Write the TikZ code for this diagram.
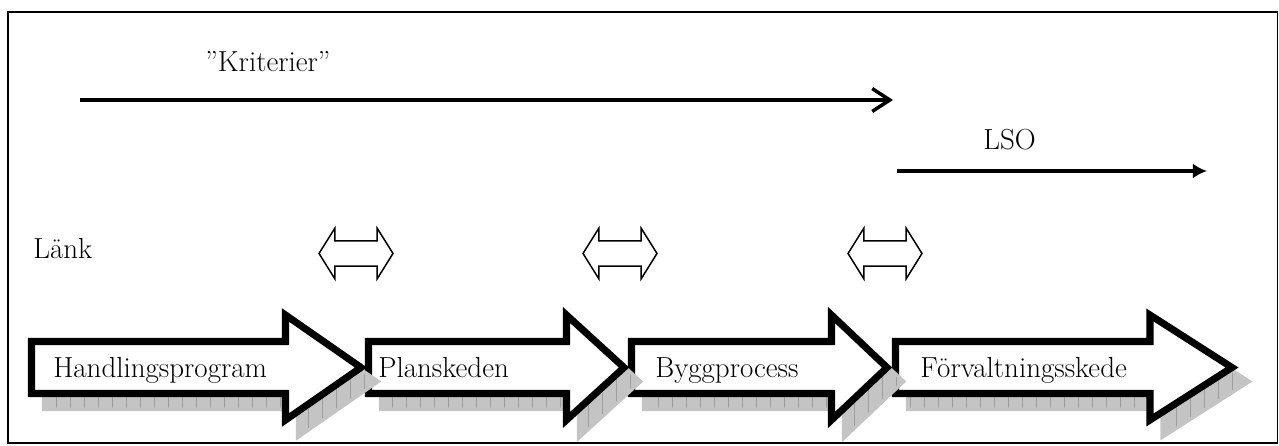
\documentclass[tikz,border=0pt]{standalone}
\usepackage{fontspec}
\usetikzlibrary{arrows.meta,positioning,shapes.arrows}
\tikzset{
  frame/.style = {line width=1.1pt},
  phasearrow/.style = {line width=2.6pt, -{Straight Barb[length=10pt,width=13pt,line width=2pt]}},
  lsoarrow/.style = {line width=2.2pt, -{Latex[length=8pt,width=8.5pt]}},
  linkarrow/.style = {double arrow, draw, fill=white, line width=0.85pt,
    inner xsep=0pt, inner ysep=0.24cm, minimum height=1.48cm,
    double arrow head extend=0.25cm, double arrow tip angle=116},
  stagearrow/.style = {draw=black, fill=white, line width=4pt, miter limit=10},
  stageshadow/.style = {draw=black!23, fill=black!23, line width=4pt},
  stagegrid/.style = {draw=black!38, line width=0.5pt},
  stagetext/.style = {anchor=base west, inner sep=0pt, font=\fontsize{16.5}{19}\selectfont},
  plaintext/.style = {anchor=base west, inner sep=0pt, font=\fontsize{16.5}{19}\selectfont},
}

\begin{document}
\begin{tikzpicture}[x=0.02cm, y=-0.02cm]
\useasboundingbox (0,0) rectangle (1279,446);
\draw[frame] (8,12) rectangle (1277.5,443);

% top arrows
\node[plaintext] (krit) at (205,72) {”Kriterier”};
\coordinate (kritstart) at (80,100);
\coordinate (kritend) at (893,100);
\draw[phasearrow] (kritstart) -- (kritend);

\node[plaintext] (lso) at (983,150) {LSO};
\coordinate (lsostart) at (897,171);
\coordinate (lsoend) at (1207,171);
\draw[lsoarrow] (lsostart) -- (lsoend);

% links between the stages
\node[plaintext] (lank) at (33,258) {Länk};
\node[linkarrow] (link1) at (356,253.5) {};
\node[linkarrow] (link2) at (620,253.5) {};
\node[linkarrow] (link3) at (885,253.5) {};

% stages, last one first so each tip lies on the next body
\foreach \L/\H/\T/\tx/\nm/\lab in {
    895.5/1150/1232/920/forv/Förvaltningsskede,
    631.5/831.5/887/655/bygg/Byggprocess,
    368.5/566.5/624/378/plan/Planskeden,
    31.5/285.5/361/53/handl/Handlingsprogram}{
  \begin{scope}[shift={(14,14)}]
    \path[stageshadow] (\L,341.5) -- (\H,341.5) -- (\H,315) -- (\T,367.5)
      -- (\H,420) -- (\H,393.5) -- (\L,393.5) -- cycle;
    \begin{scope}
      \clip (\L,341.5) -- (\H,341.5) -- (\H,315) -- (\T,367.5)
        -- (\H,420) -- (\H,393.5) -- (\L,393.5) -- cycle;
      \draw[stagegrid] (\L-30,280) grid[step=14] (\T+30,450);
    \end{scope}
  \end{scope}
  \path[stagearrow] (\L,341.5) -- (\H,341.5) -- (\H,315) -- (\T,367.5)
    -- (\H,420) -- (\H,393.5) -- (\L,393.5) -- cycle;
  \node[stagetext] (\nm) at (\tx,377) {\lab};
}
\end{tikzpicture}
\end{document}
